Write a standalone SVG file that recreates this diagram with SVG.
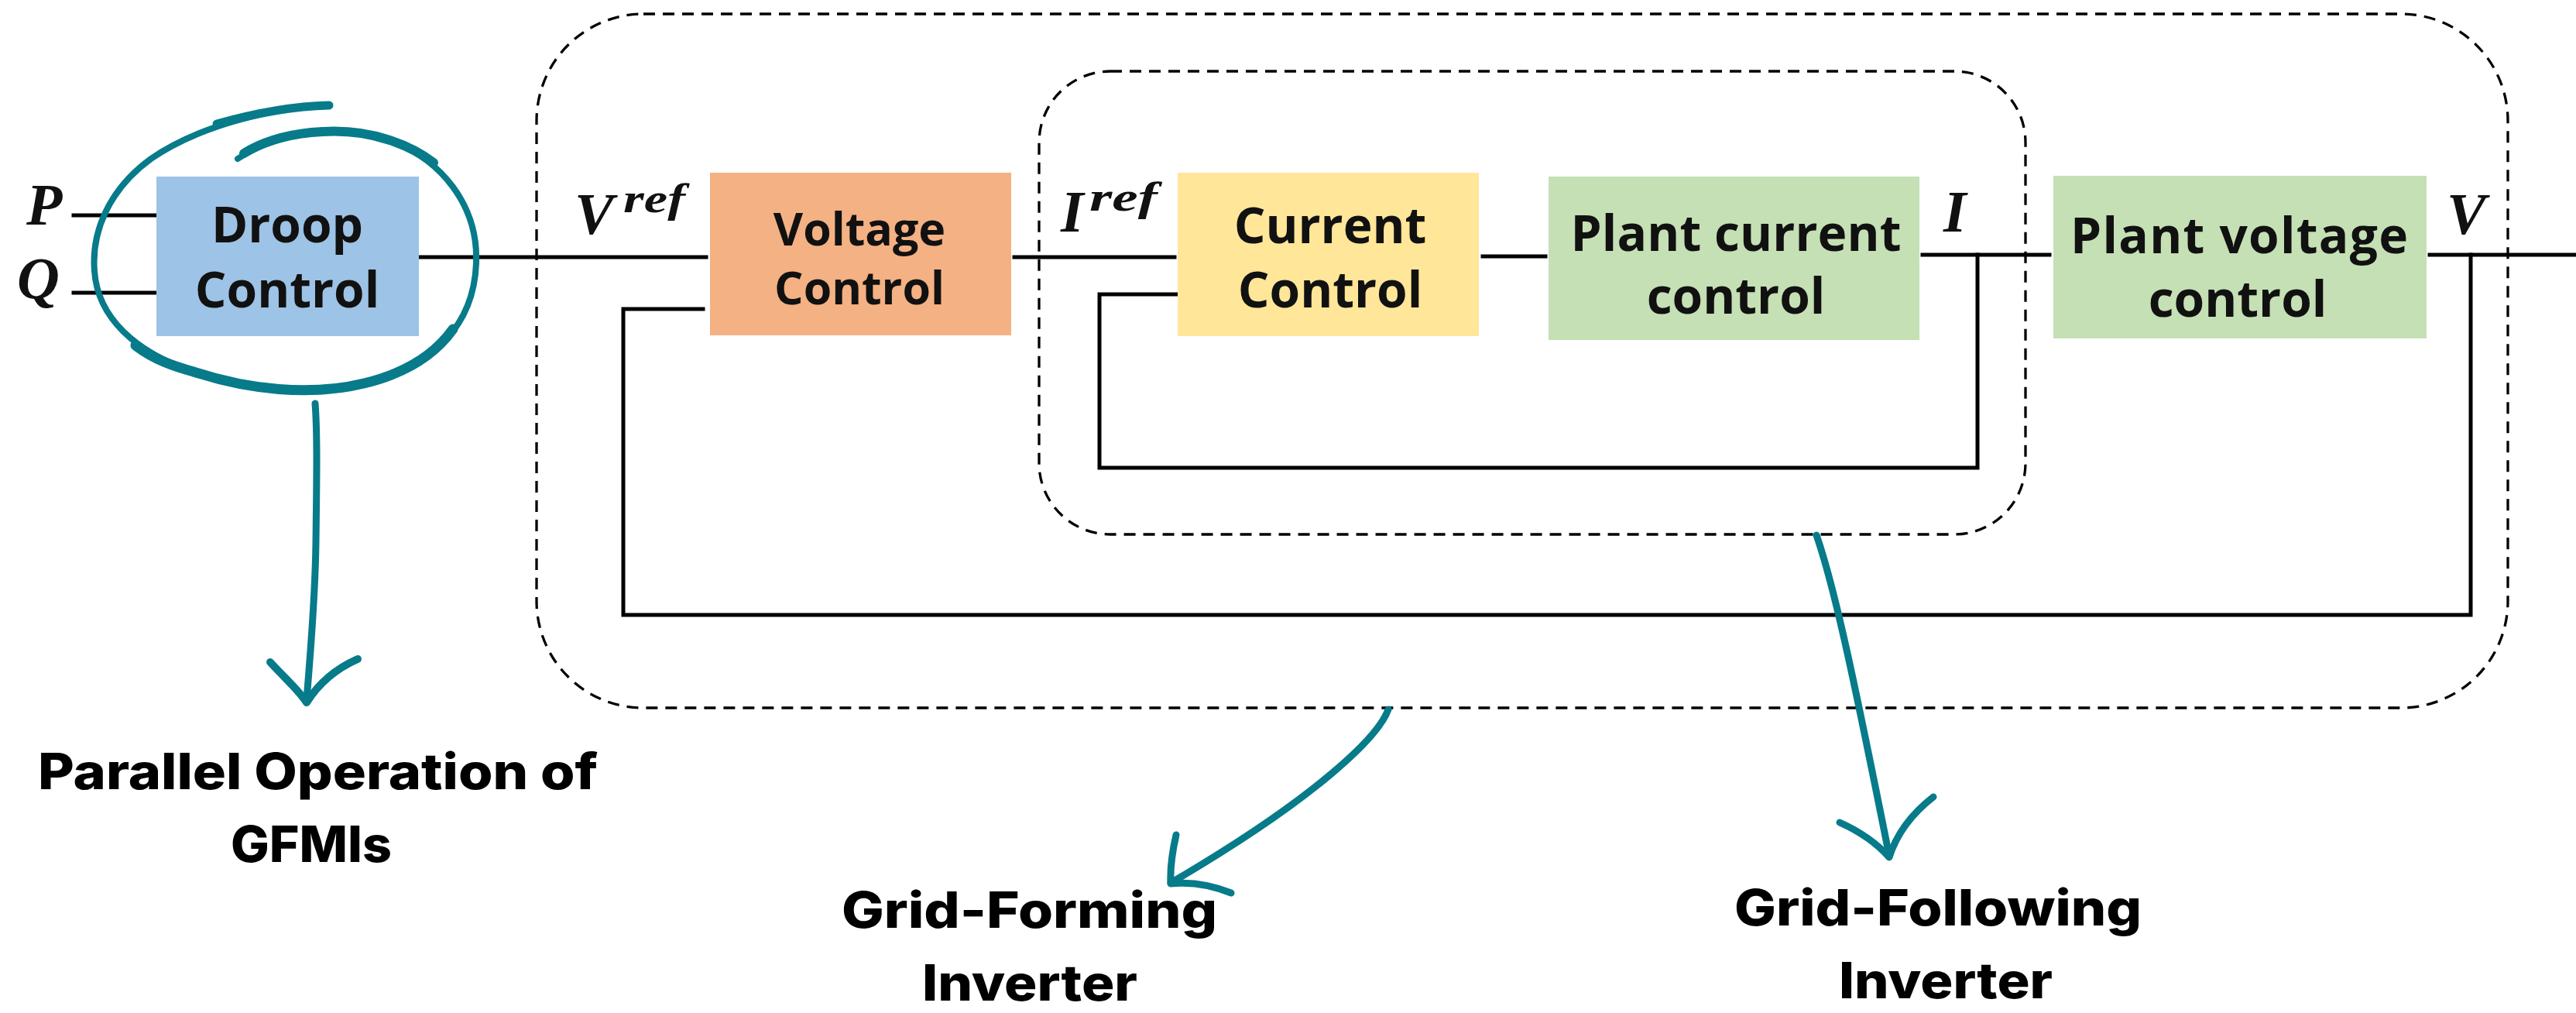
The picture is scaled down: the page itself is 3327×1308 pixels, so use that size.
<svg xmlns="http://www.w3.org/2000/svg" width="3327" height="1308" viewBox="0 0 3327 1308">
<style>
.box-text{font-family:"Open Sans","Liberation Sans",sans-serif;font-weight:700;font-size:64px;fill:#111;text-anchor:middle}
.math{font-family:"Liberation Serif","DejaVu Serif",serif;font-weight:bold;font-style:italic;font-size:76px;fill:#111}
.sup{font-family:"Liberation Serif","DejaVu Serif",serif;font-weight:bold;font-style:italic;font-size:52px;fill:#111}
.label{font-family:Inter,"Liberation Sans",sans-serif;font-weight:800;font-size:64px;fill:#000}
.wire{fill:none;stroke:#000;stroke-width:5;stroke-linecap:square}
.dash{fill:none;stroke:#000;stroke-width:3.3;stroke-dasharray:15 10}
.teal{fill:none;stroke:#077B8A;stroke-linecap:round;stroke-linejoin:round}
</style>
<rect width="3327" height="1308" fill="#fff"/>

<g id="groups">
  <rect id="gfm-boundary" class="dash" x="693" y="18" width="2546" height="896" rx="138"/>
  <rect id="gfl-boundary" class="dash" x="1342" y="92" width="1274" height="598" rx="92"/>
</g>

<g id="connectors">
  <line class="wire" x1="95" y1="278" x2="202" y2="278"/>
  <line class="wire" x1="95" y1="378" x2="202" y2="378"/>
  <line class="wire" x1="541" y1="332" x2="912" y2="332"/>
  <line class="wire" x1="1310" y1="332" x2="1517" y2="332"/>
  <line class="wire" x1="1915" y1="331" x2="1996" y2="331"/>
  <line class="wire" x1="2483" y1="329" x2="2647" y2="329"/>
  <line class="wire" x1="3138" y1="329" x2="3327" y2="329"/>
  <polyline class="wire" points="2554,329 2554,604 1420,604 1420,380 1521,380"/>
  <polyline class="wire" points="3191,329 3191,794 805,794 805,399 908,399"/>
</g>

<g id="droop-control">
  <rect x="202" y="228" width="339" height="206" fill="#9DC3E6"/>
  <text class="box-text" x="371" y="313">Droop</text>
  <text class="box-text" x="371" y="397">Control</text>
</g>
<g id="voltage-control">
  <rect x="917" y="223" width="389" height="210" fill="#F4B183"/>
  <text class="box-text" x="1110" y="317" style="font-size:59px">Voltage</text>
  <text class="box-text" x="1110" y="393" style="font-size:59px">Control</text>
</g>
<g id="current-control">
  <rect x="1521" y="223" width="389" height="211" fill="#FFE699"/>
  <text class="box-text" x="1718" y="314">Current</text>
  <text class="box-text" x="1718" y="397">Control</text>
</g>
<g id="plant-current-control">
  <rect x="2000" y="228" width="479" height="211" fill="#C5E0B4"/>
  <text class="box-text" x="2242" y="324" textLength="427" lengthAdjust="spacing">Plant current</text>
  <text class="box-text" x="2242" y="405">control</text>
</g>
<g id="plant-voltage-control">
  <rect x="2652" y="227" width="482" height="210" fill="#C5E0B4"/>
  <text class="box-text" x="2892" y="327" textLength="436" lengthAdjust="spacing">Plant voltage</text>
  <text class="box-text" x="2890" y="409">control</text>
</g>

<g id="signal-labels">
  <text class="math" x="34" y="290">P</text>
  <text class="math" x="22" y="385">Q</text>
  <text class="math" x="742" y="302">V</text>
  <text class="sup" x="805" y="274" textLength="80" lengthAdjust="spacingAndGlyphs">ref</text>
  <text class="math" x="1370" y="299">I</text>
  <text class="sup" x="1407" y="272" textLength="88" lengthAdjust="spacingAndGlyphs">ref</text>
  <text class="math" x="2510" y="299">I</text>
  <text class="math" x="3160" y="302">V</text>
</g>

<g id="annotation-droop">
  <path class="teal" stroke-width="8" d="M425 136 C360 138 260 160 195 205 C140 245 118 300 122 350 C126 410 175 455 250 480 C320 503 400 512 470 495 C560 473 612 420 615 340 C618 265 570 205 500 180 C440 160 360 170 307 205"/>
  <path class="teal" stroke-width="13" d="M175 446 C200 465 225 473 250 480 C320 503 400 512 470 495 C520 483 560 460 585 425"/>
  <path class="teal" stroke-width="12" d="M560 210 C540 195 520 186 500 180 C440 160 360 170 315 198"/>
  <path class="teal" stroke-width="11" d="M425 136 C380 137 330 146 280 160"/>
  <path class="teal" stroke-width="9" d="M407 521 C410 560 409 620 408 700 C407 780 400 850 396 905"/>
  <path class="teal" stroke-width="10" d="M349 855 C370 878 385 890 396 907 C410 885 430 865 462 851"/>
</g>
<g id="annotation-gfm">
  <path class="teal" stroke-width="9" d="M1793 916 C1780 952 1700 1030 1512 1140"/>
  <path class="teal" stroke-width="9" d="M1519 1078 C1514 1100 1511 1120 1512 1141 C1540 1138 1565 1143 1590 1153"/>
</g>
<g id="annotation-gfl">
  <path class="teal" stroke-width="9" d="M2346 691 C2370 760 2395 880 2440 1105"/>
  <path class="teal" stroke-width="9" d="M2376 1062 C2405 1075 2425 1090 2440 1107 C2450 1075 2470 1050 2497 1029"/>
</g>

<g id="captions">
  <text class="label" x="49" y="1019" textLength="723" lengthAdjust="spacingAndGlyphs">Parallel Operation of</text>
  <text class="label" x="298" y="1113" textLength="208" lengthAdjust="spacingAndGlyphs">GFMIs</text>
  <text class="label" x="1087" y="1198" textLength="485" lengthAdjust="spacingAndGlyphs">Grid-Forming</text>
  <text class="label" x="1191" y="1292" textLength="278" lengthAdjust="spacingAndGlyphs">Inverter</text>
  <text class="label" x="2240" y="1195" textLength="526" lengthAdjust="spacingAndGlyphs">Grid-Following</text>
  <text class="label" x="2375" y="1289" textLength="276" lengthAdjust="spacingAndGlyphs">Inverter</text>
</g>
</svg>
